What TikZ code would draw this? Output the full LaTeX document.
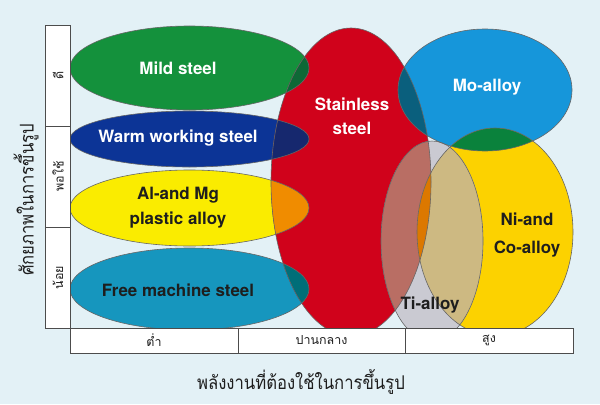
\documentclass[tikz,border=0pt]{standalone}
\usepackage{fontspec}
\setmainfont{TeX Gyre Heros}
\newfontfamily\thaifont[Script=Thai]{Loma}
\newfontfamily\thaititulo[Script=Thai, FakeStretch=0.88]{Loma}
\definecolor{FONDO}{RGB}{227, 241, 246}
\definecolor{MS}{RGB}{20, 145, 60}
\definecolor{WW}{RGB}{12, 52, 150}
\definecolor{AM}{RGB}{250, 236, 0}
\definecolor{FM}{RGB}{22, 150, 190}
\definecolor{SS}{RGB}{208, 2, 27}
\definecolor{MO}{RGB}{22, 150, 218}
\definecolor{NC}{RGB}{252, 210, 0}
\definecolor{TI}{RGB}{202, 202, 210}
\definecolor{MSxSS}{RGB}{14, 104, 54}
\definecolor{WWxSS}{RGB}{22, 40, 110}
\definecolor{AMxSS}{RGB}{240, 140, 0}
\definecolor{FMxSS}{RGB}{0, 110, 120}
\definecolor{MOxSS}{RGB}{10, 95, 125}
\definecolor{MOxNC}{RGB}{10, 130, 60}
\definecolor{TIxSS}{RGB}{185, 110, 100}
\definecolor{TIxNC}{RGB}{205, 185, 130}
\definecolor{SSxNC}{RGB}{220, 120, 0}
\definecolor{TX}{RGB}{30, 30, 30}

\begin{document}
\begin{tikzpicture}[x=1bp, y=1bp,
	contorno/.style={draw=black!60, line width=0.6pt},
	blanco/.style={text=white, font=\bfseries\fontsize{17}{24}\selectfont, align=center},
	oscuro/.style={text=TX, font=\bfseries\fontsize{17}{25}\selectfont, align=center},
	casilla/.style={draw=black!70, fill=white, line width=0.8pt},
	escala/.style={text=TX, font=\thaifont\fontsize{12.5}{14}\selectfont},
	titulo/.style={text=TX, font=\thaititulo\fontsize{19}{22}\selectfont}]

	\useasboundingbox (0,0) rectangle (600,404);
	\fill[color=FONDO] (0,0) rectangle (600,404);

	%Primero se pintan todas las elipses con su color
	\fill[color=MS] (189.5,336) ellipse (119.5 and 42); %Mild
	\fill[color=WW] (189.5,265) ellipse (119.5 and 28); %Warm
	\fill[color=AM] (189.5,196) ellipse (119.5 and 38); %Al-Mg
	\fill[color=FM] (189.5,115) ellipse (119.5 and 41); %Free
	\fill[color=SS] (351,222) ellipse (80 and 154); %Stainless
	\fill[color=MO] (485,314) ellipse (87 and 61); %Mo
	\fill[color=NC] (495,172) ellipse (78 and 104); %Ni-Co
	\fill[color=TI] (432,163) ellipse (51 and 100); %Ti

	%Interseccion Stainless con las elipses de la izquierda
	\begin{scope}
		\clip (351,222) ellipse (80 and 154);
		\fill[color=MSxSS] (189.5,336) ellipse (119.5 and 42);
		\fill[color=WWxSS] (189.5,265) ellipse (119.5 and 28);
		\fill[color=AMxSS] (189.5,196) ellipse (119.5 and 38);
		\fill[color=FMxSS] (189.5,115) ellipse (119.5 and 41);
		\fill[color=MOxSS] (485,314) ellipse (87 and 61);
	\end{scope}

	%Interseccion Mo con Ni-Co
	\begin{scope}
		\clip (485,314) ellipse (87 and 61);
		\fill[color=MOxNC] (495,172) ellipse (78 and 104);
	\end{scope}

	%Interseccion Ti con Stainless
	\begin{scope}
		\clip (432,163) ellipse (51 and 100);
		\fill[color=TIxSS] (351,222) ellipse (80 and 154);
	\end{scope}

	%Interseccion Ti con Ni-Co
	\begin{scope}
		\clip (432,163) ellipse (51 and 100);
		\fill[color=TIxNC] (495,172) ellipse (78 and 104);
	\end{scope}

	%Interseccion Stainless con Ni-Co (centro)
	\begin{scope}
		\clip (351,222) ellipse (80 and 154);
		\clip (495,172) ellipse (78 and 104);
		\fill[color=SSxNC] (300,0) rectangle (600,404);
	\end{scope}

	%Bordes de todas las elipses
	\draw[contorno] (189.5,336) ellipse (119.5 and 42);
	\draw[contorno] (189.5,265) ellipse (119.5 and 28);
	\draw[contorno] (189.5,196) ellipse (119.5 and 38);
	\draw[contorno] (189.5,115) ellipse (119.5 and 41);
	\draw[contorno] (351,222) ellipse (80 and 154);
	\draw[contorno] (485,314) ellipse (87 and 61);
	\draw[contorno] (495,172) ellipse (78 and 104);
	\draw[contorno] (432,163) ellipse (51 and 100);

	%Ejes: columna izquierda y fila de abajo
	\draw[casilla] (45,379) rectangle (70,278);
	\draw[casilla] (45,278) rectangle (70,177);
	\draw[casilla] (45,177) rectangle (70,76);
	\draw[casilla] (70,76) rectangle (238,51);
	\draw[casilla] (238,76) rectangle (405,51);
	\draw[casilla] (405,76) rectangle (573,51);

	\node[escala, rotate=90] (bueno) at (58,328.5) {ดี};
	\node[escala, rotate=90] (regular) at (58,227.5) {พอใช้};
	\node[escala, rotate=90] (poco) at (58,126.5) {น้อย};
	\node[escala] (bajo) at (154,63.5) {ต่ำ};
	\node[escala] (medio) at (321.5,63.5) {ปานกลาง};
	\node[escala] (alto) at (489,63.5) {สูง};

	%Titulos de los ejes
	\node[titulo, rotate=90] (tituloy) at (26,204) {ศักยภาพในการขึ้นรูป};
	\node[titulo] (titulox) at (301,22) {พลังงานที่ต้องใช้ในการขึ้นรูป};

	%Nombres de los materiales
	\node[blanco] (mild) at (178,336) {Mild steel};
	\node[blanco] (warm) at (178,266) {Warm working steel};
	\node[oscuro] (almg) at (178,196) {Al-and Mg\\plastic alloy};
	\node[oscuro] (free) at (178,114) {Free machine steel};
	\node[blanco] (stainless) at (352,288) {Stainless\\steel};
	\node[blanco] (mo) at (487,317) {Mo-alloy};
	\node[oscuro, font=\bfseries\fontsize{17}{28}\selectfont] (nico) at (527,169) {Ni-and\\Co-alloy};
	\node[oscuro] (ti) at (430,99) {Ti-alloy};
\end{tikzpicture}
\end{document}
